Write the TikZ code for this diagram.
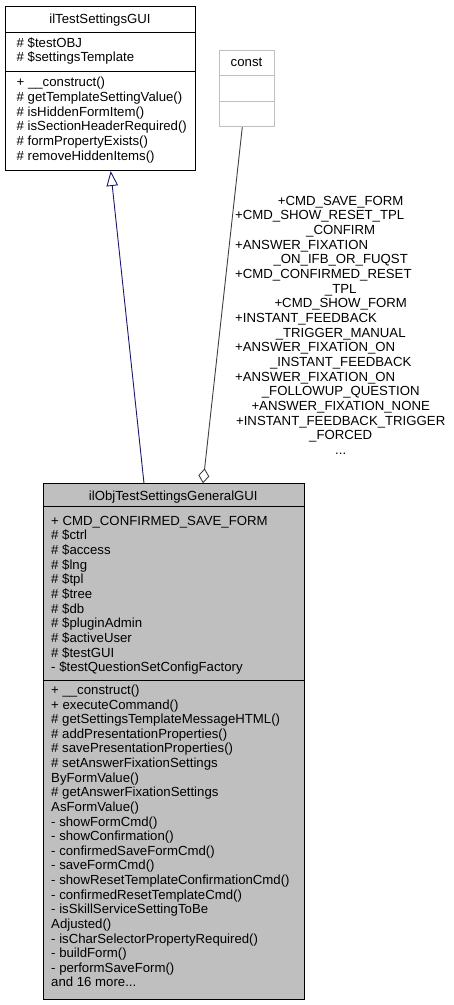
\documentclass[tikz,border=0pt]{standalone}
\usepackage{fontspec}
\setmainfont{Liberation Sans}
\usetikzlibrary{arrows.meta}
\definecolor{edgeblue}{HTML}{191970}
\definecolor{edgegray}{HTML}{404040}
\definecolor{boxgray}{HTML}{BFBFBF}
\newcommand\myandmore{and 16 more...}
\tikzset{
  umlbox/.style={draw=black, line width=1pt, inner sep=0pt, anchor=north west},
  txt/.style={inner sep=0pt, anchor=base west, font=\fontsize{13.2}{14.7}\selectfont},
  ctxt/.style={inner sep=0pt, anchor=base, font=\fontsize{13.2}{14.7}\selectfont},
  divider/.style={line width=1pt},
  inherit/.style={edgeblue, line width=0.9pt, -{Triangle[open,length=15pt,width=11.5pt]}},
  aggreg/.style={edgegray, line width=0.9pt, -{Diamond[open,length=15pt,width=11pt]}}
}
\begin{document}
\begin{tikzpicture}[x=1pt,y=-1pt]
\useasboundingbox (0,0) rectangle (453,1005);
% base class
\node[umlbox, fill=white, minimum width=190pt, minimum height=164pt] (base) at (5,6) {};
\draw[divider] (5,32) -- (195,32);
\draw[divider] (5,71) -- (195,71);
\node[ctxt] (basetitle) at (100,23) {ilTestSettingsGUI};
\foreach \t [count=\i] in {\# \$testOBJ, \# \$settingsTemplate}
  \node[txt] (ba\i) at ({16.5},{47+(\i-1)*14.7}) {\t};
\foreach \t [count=\i] in {+ \_\_construct(), \# getTemplateSettingValue(), \# isHiddenFormItem(), \# isSectionHeaderRequired(), \# formPropertyExists(), \# removeHiddenItems()}
  \node[txt] (bm\i) at ({16.5},{86.7+(\i-1)*14.7}) {\t};
% const
\node[umlbox, draw=boxgray, fill=white, minimum width=55pt, minimum height=76pt] (const) at (219,50) {};
\draw[divider, boxgray] (219,75.5) -- (274,75.5);
\draw[divider, boxgray] (219,101) -- (274,101);
\node[ctxt] (consttitle) at (246.5,66) {const};
% main class
\node[umlbox, fill=boxgray, minimum width=261.3pt, minimum height=515.7pt] (main) at (42.7,483.3) {};
\draw[divider] (42.7,506) -- (304,506);
\draw[divider] (42.7,680.5) -- (304,680.5);
\node[ctxt] (maintitle) at (173.3,500.5) {ilObjTestSettingsGeneralGUI};
\foreach \t [count=\i] in {+ CMD\_CONFIRMED\_SAVE\_FORM, \# \$ctrl, \# \$access, \# \$lng, \# \$tpl, \# \$tree, \# \$db, \# \$pluginAdmin, \# \$activeUser, \# \$testGUI, - \$testQuestionSetConfigFactory}
  \node[txt] (ma\i) at ({51},{525+(\i-1)*14.67}) {\t};
\foreach \t [count=\i] in {+ \_\_construct(), + executeCommand(), \# getSettingsTemplateMessageHTML(), \# addPresentationProperties(), \# savePresentationProperties(), \# setAnswerFixationSettings, ByFormValue(), \# getAnswerFixationSettings, AsFormValue(), - showFormCmd(), - showConfirmation(), - confirmedSaveFormCmd(), - saveFormCmd(), - showResetTemplateConfirmationCmd(), - confirmedResetTemplateCmd(), - isSkillServiceSettingToBe, Adjusted(), - isCharSelectorPropertyRequired(), - buildForm(), - performSaveForm(), \myandmore}
  \node[txt] (mm\i) at ({51},{694.5+(\i-1)*14.62}) {\t};
% connectors
\coordinate (inhA) at ([xshift=101.3pt]main.north west);
\coordinate (inhB) at ([xshift=105.7pt]base.south west);
\draw[inherit] (inhA) -- (inhB);
\coordinate (aggA) at ([xshift=23.3pt]const.south west);
\coordinate (aggB) at ([xshift=160.3pt]main.north west);
\draw[aggreg] (aggA) -- (aggB);
% edge label
\node[ctxt] (l1) at (340.7,205) {+CMD\_SAVE\_FORM};
\node[txt] (l2) at (235,219.67) {+CMD\_SHOW\_RESET\_TPL};
\node[ctxt] (l3) at (340.7,234.33) {\_CONFIRM};
\node[txt] (l4) at (235,249) {+ANSWER\_FIXATION};
\node[ctxt] (l5) at (340.7,263.67) {\_ON\_IFB\_OR\_FUQST};
\node[txt] (l6) at (235,278.33) {+CMD\_CONFIRMED\_RESET};
\node[ctxt] (l7) at (340.7,293) {\_TPL};
\node[ctxt] (l8) at (340.7,307.67) {+CMD\_SHOW\_FORM};
\node[txt] (l9) at (235,322.33) {+INSTANT\_FEEDBACK};
\node[ctxt] (l10) at (340.7,337) {\_TRIGGER\_MANUAL};
\node[txt] (l11) at (235,351.67) {+ANSWER\_FIXATION\_ON};
\node[ctxt] (l12) at (340.7,366.33) {\_INSTANT\_FEEDBACK};
\node[txt] (l13) at (235,381) {+ANSWER\_FIXATION\_ON};
\node[ctxt] (l14) at (340.7,395.67) {\_FOLLOWUP\_QUESTION};
\node[ctxt] (l15) at (340.7,410.33) {+ANSWER\_FIXATION\_NONE};
\node[ctxt] (l16) at (340.7,425) {+INSTANT\_FEEDBACK\_TRIGGER};
\node[ctxt] (l17) at (340.7,439.67) {\_FORCED};
\node[ctxt] (l18) at (340.7,454.33) {...};
\end{tikzpicture}
\end{document}
